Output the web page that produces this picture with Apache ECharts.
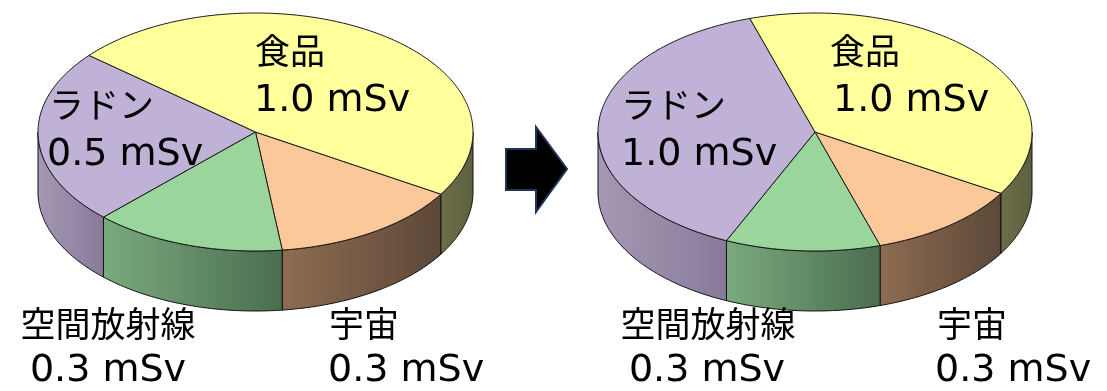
<!DOCTYPE html>
<html>
<head>
<meta charset="utf-8">
<script src="https://cdn.jsdelivr.net/npm/echarts@6/dist/echarts.min.js"></script>
<style>
  html, body { margin: 0; padding: 0; background: #ffffff; }
  #chart { width: 1107px; height: 391px; }
</style>
</head>
<body>
<div id="chart"></div>
<script>
// Annual natural radiation dose by source (mSv), before and after
const categories = ['宇宙', '空間放射線', 'ラドン', '食品'];
const doseBefore = [0.3, 0.3, 0.5, 1.0];
const doseAfter = [0.3, 0.3, 1.0, 1.0];
const unit = 'mSv';

// Slice styling, same order as categories
const topColors = ['#fbc899', '#9ad69c', '#c0b1d6', '#ffff9c'];
const sideColors = [
  ['#8e6c51', '#5c4839'],
  ['#7aaa7d', '#4b6d4f'],
  ['#a698b4', '#887b9a'],
  ['#6e6e48', '#5d5f3f']
];

const FONT = '"DejaVu Sans", "Noto Sans CJK JP", sans-serif';
const NAME_SIZE = 35;
const VALUE_SIZE = 38;

// Geometry of each drawn disc and where its captions sit
const pies = [
  {
    values: doseBefore,
    cx: 255.5, cy: 132, rx: 217.5, ry: 119, depth: 60, startAngle: 31.5,
    labels: [
      { name: [329, 328, 'left'], value: [328, 371.5, 'left'] },
      { name: [108, 328, 'center'], value: [108, 371.5, 'center'] },
      { name: [49, 109, 'left'], value: [47, 155, 'left'] },
      { name: [255, 55, 'left'], value: [254, 101.5, 'left'] }
    ]
  },
  {
    values: doseAfter,
    cx: 815, cy: 132, rx: 217, ry: 119, depth: 60, startAngle: 31,
    labels: [
      { name: [937, 328, 'left'], value: [935, 371.5, 'left'] },
      { name: [708, 328, 'center'], value: [707, 371.5, 'center'] },
      { name: [621, 109, 'left'], value: [621, 155, 'left'] },
      { name: [830, 55, 'left'], value: [833, 101.5, 'left'] }
    ]
  }
];

function arcPoints(p, a0, a1, dy) {
  const pts = [];
  const n = Math.max(2, Math.ceil(Math.abs(a1 - a0)));
  for (let k = 0; k <= n; k++) {
    const a = (a0 + (a1 - a0) * k / n) * Math.PI / 180;
    pts.push([p.cx + p.rx * Math.cos(a), p.cy + p.ry * Math.sin(a) + dy]);
  }
  return pts;
}

function makeSeries(p) {
  const total = p.values.reduce((s, v) => s + v, 0);
  const cum = [];
  p.values.reduce((s, v, i) => { cum[i] = s; return s + v; }, 0);
  return {
    type: 'custom',
    coordinateSystem: 'none',
    silent: true,
    data: p.values.map((v, i) => ({ name: categories[i], value: v })),
    renderItem: function (params, api) {
      const i = params.dataIndex;
      const v = api.value(0);
      const a0 = p.startAngle + 360 * cum[i] / total;
      const a1 = a0 + 360 * v / total;
      const children = [];

      // Visible rim: the front half of the disc (0..180 deg, screen y down)
      [[0, 180], [360, 540]].forEach(function (win) {
        const s = Math.max(a0, win[0]);
        const e = Math.min(a1, win[1]);
        if (e - s > 0.01) {
          const top = arcPoints(p, s, e, 0);
          const bottom = arcPoints(p, e, s, p.depth);
          children.push({
            type: 'polygon',
            z2: 1,
            shape: { points: top.concat(bottom) },
            style: {
              fill: new echarts.graphic.LinearGradient(0, 0, 1, 0, [
                { offset: 0, color: sideColors[i][0] },
                { offset: 1, color: sideColors[i][1] }
              ]),
              stroke: '#111111',
              lineWidth: 1
            }
          });
        }
      });

      // Top face of the slice
      children.push({
        type: 'polygon',
        z2: 5,
        shape: { points: [[p.cx, p.cy]].concat(arcPoints(p, a0, a1, 0)) },
        style: { fill: topColors[i], stroke: '#1a1a1a', lineWidth: 1 }
      });

      // Caption: category name and its dose
      const lab = p.labels[i];
      const texts = [
        [lab.name, categories[i], NAME_SIZE],
        [lab.value, v.toFixed(1) + ' ' + unit, VALUE_SIZE]
      ];
      texts.forEach(function (t) {
        children.push({
          type: 'text',
          z2: 10,
          x: t[0][0],
          y: t[0][1],
          style: {
            text: t[1],
            fill: '#000000',
            fontSize: t[2],
            fontFamily: FONT,
            align: t[0][2],
            verticalAlign: 'middle'
          }
        });
      });

      return { type: 'group', children: children };
    }
  };
}

const chart = echarts.init(document.getElementById('chart'), null, { renderer: 'canvas' });
chart.setOption({
  backgroundColor: '#ffffff',
  animation: false,
  series: pies.map(makeSeries),
  graphic: [{
    type: 'polygon',
    shape: {
      points: [[506, 149], [536, 149], [536, 127], [567, 169], [536, 212], [536, 190], [506, 190]]
    },
    style: { fill: '#000000', stroke: '#1f3558', lineWidth: 2 }
  }]
});
</script>
</body>
</html>
